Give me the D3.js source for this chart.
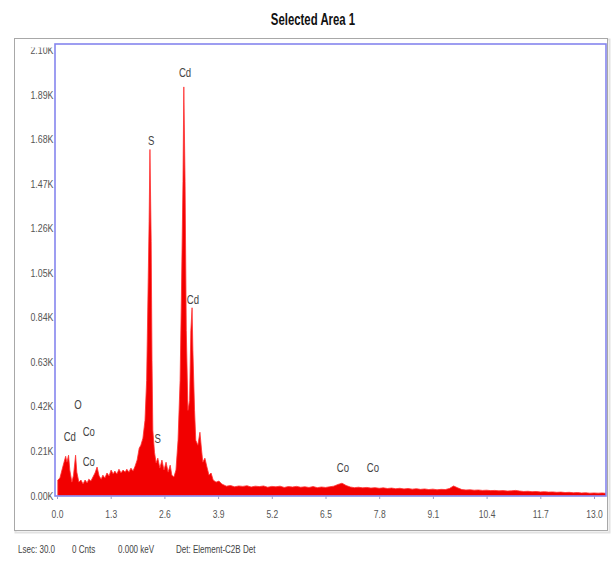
<!DOCTYPE html>
<html>
<head>
<meta charset="utf-8">
<script src="https://cdn.jsdelivr.net/npm/d3@7"></script>
<style>
  body { margin: 0; background: #fff; }
  svg { display: block; }
</style>
</head>
<body>
<div id="chart"></div>
<script>
// spectrum: energy (keV) and counts
const energy = [
  0.02, 0.07, 0.12, 0.17, 0.21, 0.24, 0.28, 0.31, 0.36, 0.40, 0.45, 0.48, 0.53, 0.58, 0.63, 0.68, 0.73, 0.77,
  0.82, 0.87, 0.92, 0.97, 1.02, 1.07, 1.11, 1.16, 1.21, 1.26, 1.31, 1.36, 1.40, 1.45, 1.50, 1.55, 1.60, 1.65,
  1.69, 1.74, 1.79, 1.84, 1.89, 1.94, 1.99, 2.03, 2.08, 2.13, 2.17, 2.20, 2.23, 2.25, 2.28, 2.30, 2.32, 2.36,
  2.40, 2.44, 2.49, 2.54, 2.59, 2.64, 2.69, 2.74, 2.78, 2.83, 2.88, 2.93, 2.98, 3.01, 3.05, 3.07, 3.10, 3.13,
  3.17, 3.21, 3.24, 3.27, 3.29, 3.33, 3.36, 3.41, 3.46, 3.50, 3.53, 3.58, 3.63, 3.68, 3.73, 3.78, 3.85, 3.92,
  3.99,
  4.1, 4.2, 4.3, 4.4, 4.5, 4.6, 4.7, 4.8, 4.9, 5.0, 5.1, 5.2, 5.3, 5.4, 5.5, 5.6, 5.7, 5.8, 5.9,
  6.0, 6.1, 6.2, 6.3, 6.4, 6.5, 6.6, 6.7, 6.8, 6.9, 7.0, 7.1, 7.2, 7.3, 7.4, 7.5, 7.6, 7.7, 7.8, 7.9,
  8.0, 8.1, 8.2, 8.3, 8.4, 8.5, 8.6, 8.7, 8.8, 8.9, 9.0, 9.1, 9.2, 9.3, 9.4, 9.5, 9.6, 9.7, 9.8, 9.9,
  10.0, 10.1, 10.2, 10.3, 10.4, 10.5, 10.6, 10.7, 10.8, 10.9, 11.0, 11.1, 11.2, 11.3, 11.4, 11.5, 11.6, 11.7,
  11.8, 11.9, 12.0, 12.1, 12.2, 12.3, 12.4, 12.5, 12.6, 12.7, 12.8, 12.9, 13.0, 13.1, 13.2, 13.3
];
const counts = [
  73, 82, 120, 157, 185, 157, 190, 120, 63, 96, 190, 110, 63, 73, 54, 73, 59, 77,
  68, 87, 106, 134, 92, 77, 96, 82, 106, 92, 120, 101, 115, 101, 124, 106, 120, 110,
  124, 110, 129, 115, 138, 167, 223, 237, 270, 354, 542, 917, 1292, 1631, 1198, 636, 307, 204,
  153, 176, 129, 167, 120, 157, 110, 143, 96, 87, 120, 260, 542, 917, 1481, 1926, 1481, 777,
  401, 448, 777, 885, 683, 401, 260, 237, 298, 214, 157, 176, 134, 96, 106, 73, 63, 68,
  54,
  44, 47, 41, 45, 43, 46, 40, 44, 42, 45, 39, 43, 41, 44, 38, 42, 40, 43, 39,
  41, 38, 42, 37, 40, 38, 41, 44, 52, 58, 47, 40, 37, 39, 36, 38, 35, 37, 34, 36,
  33, 35, 32, 34, 31, 33, 30, 32, 29, 31, 28, 30, 27, 29, 28, 33, 45, 36, 28, 26,
  27, 25, 26, 24, 25, 23, 24, 22, 23, 21, 22, 24, 21, 19, 20, 18, 19, 17,
  18, 16, 17, 15, 16, 14, 15, 13, 14, 12, 13, 11, 12, 11, 12, 10
];

// peak labels: text, energy (keV), count where the label sits
const peakNames = ['Cd', 'S', 'Cd', 'O', 'Cd', 'Co', 'Co', 'S', 'Co', 'Co'];
const peakEnergy = [3.10, 2.28, 3.29, 0.51, 0.31, 0.77, 0.77, 2.44, 6.92, 7.65];
const peakCount = [1973, 1654, 903, 406, 256, 279, 138, 246, 110, 110];

const xTicks = [0.0, 1.3, 2.6, 3.9, 5.2, 6.5, 7.8, 9.1, 10.4, 11.7, 13.0];
const yTicks = [0, 210, 420, 630, 840, 1050, 1260, 1470, 1680, 1890, 2100];

const footer = ['Lsec: 30.0', '0 Cnts', '0.000 keV', 'Det: Element-C2B Det'];

const W = 613, H = 562;
const plot = { left: 55, right: 606, top: 44, bottom: 496 };
const font = "'Liberation Sans', Arial, sans-serif";

const svg = d3.select('#chart')
  .append('svg')
  .attr('width', W)
  .attr('height', H);

// title, squeezed to look like a narrow face
svg.append('text')
  .text('Selected Area 1')
  .attr('transform', 'translate(313, 25) scale(0.69, 1)')
  .attr('text-anchor', 'middle')
  .style('font-family', font)
  .style('font-weight', 'bold')
  .style('font-size', '16.5px')
  .style('fill', '#111');

// outer panel
svg.append('rect')
  .attr('x', 15.5).attr('y', 39.5)
  .attr('width', 594).attr('height', 493)
  .style('fill', 'none').style('stroke', '#e2e2e2').style('stroke-width', 2);
svg.append('rect')
  .attr('x', 14.5).attr('y', 38.5)
  .attr('width', 593).attr('height', 492)
  .style('fill', '#fff').style('stroke', '#a8a8a8');

// scales
const x = d3.scaleLinear().domain([0, 13]).range([57, 594]);
const y = d3.scaleLinear().domain([0, 2100]).range([495.5, 50]);

svg.append('clipPath').attr('id', 'plotclip')
  .append('rect')
  .attr('x', plot.left).attr('y', plot.top)
  .attr('width', plot.right - plot.left).attr('height', plot.bottom - plot.top);

// spectrum
const area = d3.area()
  .x((d, i) => x(energy[i]))
  .y0(y(0))
  .y1((d, i) => y(counts[i]));

svg.append('path')
  .datum(counts)
  .attr('clip-path', 'url(#plotclip)')
  .attr('d', area)
  .style('fill', '#f20000')
  .style('stroke', '#ff3030')
  .style('stroke-width', 0.8);

// plot border
svg.append('rect')
  .attr('x', plot.left).attr('y', plot.top)
  .attr('width', plot.right - plot.left).attr('height', plot.bottom - plot.top)
  .style('fill', 'none').style('stroke', '#8585ee').style('stroke-width', 1.6);

// y axis labels, the top one is cut by the panel edge
svg.append('clipPath').attr('id', 'yclip')
  .append('rect').attr('x', -60).attr('y', 47.5).attr('width', 62).attr('height', 470);

const yAxis = d3.axisLeft(y)
  .tickValues(yTicks)
  .tickSize(0)
  .tickPadding(2)
  .tickFormat(d => (d / 1000).toFixed(2) + 'K');

const gy = svg.append('g')
  .attr('transform', `translate(${plot.left}, 0)`)
  .attr('clip-path', 'url(#yclip)')
  .call(yAxis);
gy.select('.domain').remove();
gy.selectAll('text')
  .attr('transform', 'scale(0.8, 1)')
  .style('font-family', font)
  .style('font-size', '11px')
  .style('fill', '#555');

// x axis
const xAxis = d3.axisBottom(x)
  .tickValues(xTicks)
  .tickSize(3)
  .tickPadding(11)
  .tickFormat(d3.format('.1f'));

const gx = svg.append('g')
  .attr('transform', `translate(0, ${plot.bottom})`)
  .call(xAxis);
gx.select('.domain').remove();
gx.selectAll('line').style('stroke', '#9a9acc');
gx.selectAll('text')
  .attr('transform', 'scale(0.74, 1)')
  .style('font-family', font)
  .style('font-size', '11.5px')
  .style('fill', '#555');

// peak labels
svg.selectAll('.peak')
  .data(peakNames)
  .enter()
  .append('text')
  .attr('class', 'peak')
  .text(d => d)
  .attr('transform', (d, i) => `translate(${x(peakEnergy[i])}, ${y(peakCount[i])}) scale(0.8, 1)`)
  .attr('text-anchor', 'middle')
  .style('font-family', font)
  .style('font-size', '12px')
  .style('fill', '#444');

// footer
const footX = [18, 72, 118, 176];
svg.selectAll('.foot')
  .data(footer)
  .enter()
  .append('text')
  .attr('class', 'foot')
  .text(d => d)
  .attr('transform', (d, i) => `translate(${footX[i]}, 553) scale(0.73, 1)`)
  .style('font-family', font)
  .style('font-size', '11px')
  .style('fill', '#444');
</script>
</body>
</html>
